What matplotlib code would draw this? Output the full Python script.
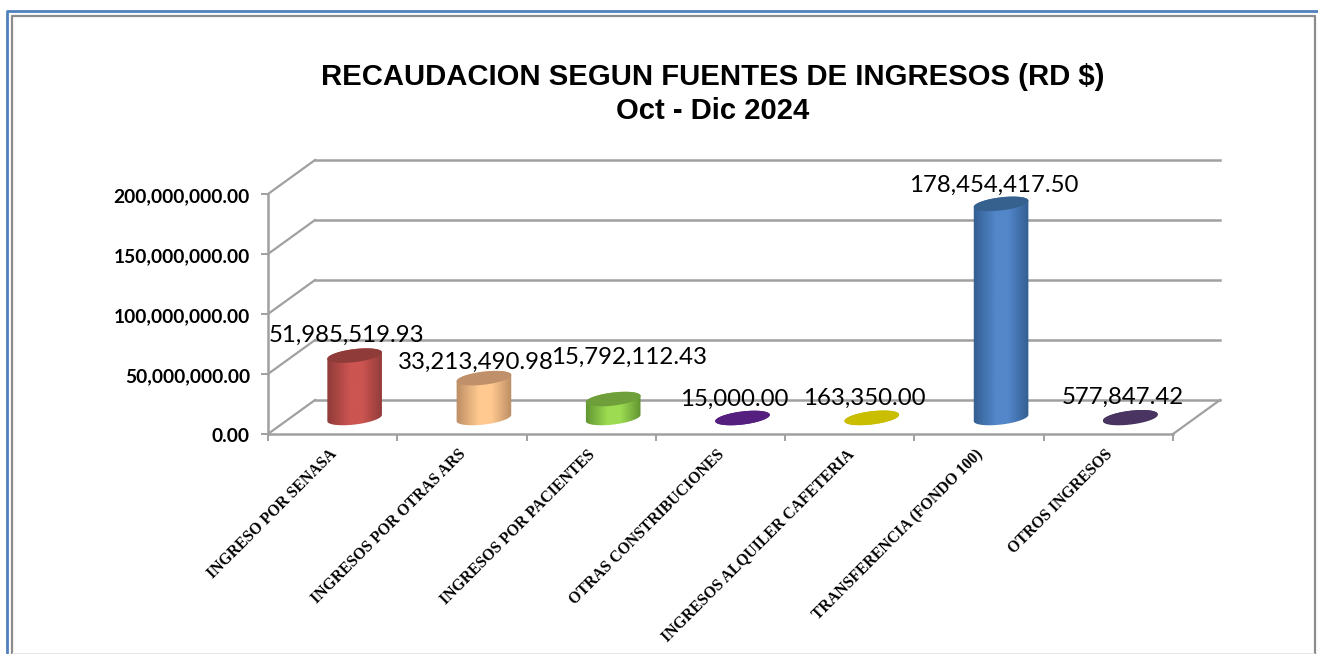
import numpy as np
import matplotlib
matplotlib.use("Agg")
import matplotlib.pyplot as plt
from matplotlib.colors import LinearSegmentedColormap
from matplotlib.lines import Line2D
from matplotlib.patches import Polygon
from matplotlib.path import Path
from matplotlib.ticker import FuncFormatter
from matplotlib.transforms import Affine2D, IdentityTransform

categories = ["INGRESO POR SENASA", "INGRESOS POR OTRAS ARS", "INGRESOS POR PACIENTES",
              "OTRAS CONSTRIBUCIONES", "INGRESOS ALQUILER CAFETERIA",
              "TRANSFERENCIA (FONDO 100)", "OTROS INGRESOS"]
values = [51985519.93, 33213490.98, 15792112.43, 15000.00, 163350.00, 178454417.50, 577847.42]
y_ticks = [0, 50000000, 100000000, 150000000, 200000000]

edge_colors = ["#8C3A38", "#B98A62", "#5E9130", "#4F1C78", "#B8AE00", "#315C8E", "#3F2C55"]
mid_colors = ["#CC5451", "#FFC98F", "#9DDC52", "#5B2186", "#CFC400", "#5387CA", "#4B3562"]
cap_colors = ["#8F3B39", "#BF9069", "#6F9F3A", "#551F80", "#C9BE00", "#36618F", "#4A3461"]
label_dy = [36, 32, 58, 35, 35, 35, 36]
label_dx = [14, 14, 38, 14, 14, 15, 14]

W, H = 1318, 654
DEPTH_X, DEPTH_Y = 47, 34
GRID = "#A0A0A0"

fig = plt.figure(figsize=(W / 100, H / 100), dpi=100, facecolor="white")
ax = fig.add_axes([268 / W, (H - 434) / H, (1173 - 268) / W, 240 / H])
ax.patch.set_visible(False)
ax.set_xlim(0, len(categories))
ax.set_ylim(0, 200000000)

# frame round the chart
fig.add_artist(Line2D([7 / W, 7 / W, 1], [0, 1 - 10.5 / H, 1 - 10.5 / H], color="#4F81BD", lw=2.0))
fig.add_artist(Line2D([12 / W, 12 / W, 1314.5 / W, 1314.5 / W], [0, 1 - 15.5 / H, 1 - 15.5 / H, 0],
                      color="#8C8C8C", lw=1.6))
fig.add_artist(Line2D([13 / W, 1314 / W], [0.5 / H, 0.5 / H], color="#E4E4E4", lw=1.2))

for v in y_ticks:
    # back wall line and the slanted line on the side wall
    x0, y0 = ax.transData.transform((0, v))
    x1, y1 = ax.transData.transform((len(categories), v))
    ax.plot([x0 + DEPTH_X, x1 + DEPTH_X], [y0 + DEPTH_Y, y1 + DEPTH_Y], color=GRID, lw=1.8,
            transform=IdentityTransform(), clip_on=False, zorder=1)
    ax.plot([x0, x0 + DEPTH_X], [y0, y0 + DEPTH_Y], color=GRID, lw=1.6,
            transform=IdentityTransform(), clip_on=False, zorder=1)
x1, y1 = ax.transData.transform((len(categories), 0))
ax.plot([x1, x1 + DEPTH_X], [y1, y1 + DEPTH_Y], color=GRID, lw=1.6,
        transform=IdentityTransform(), clip_on=False, zorder=1)

for side in ["top", "right"]:
    ax.spines[side].set_visible(False)
for side in ["left", "bottom"]:
    ax.spines[side].set_color(GRID)
    ax.spines[side].set_linewidth(1.8)

ax.set_yticks(y_ticks)
ax.yaxis.set_major_formatter(FuncFormatter(lambda v, pos: f"{v:,.2f}"))
ax.tick_params(axis="y", color=GRID, width=1.4, length=5, pad=8)
for t in ax.get_yticklabels():
    t.set_fontfamily("Lato")
    t.set_fontweight("bold")
    t.set_fontsize(13.8)
    t.set_transform(t.get_transform() + Affine2D().translate(0, -1))

ax.set_xticks(range(len(categories) + 1))
ax.set_xticklabels([])
ax.tick_params(axis="x", color=GRID, width=1.4, length=5)
ax.set_xticks(np.arange(len(categories)) + 0.5, minor=True)
ax.set_xticklabels(categories, minor=True, rotation=45, ha="right", va="top", rotation_mode="anchor",
                   fontfamily="Liberation Serif", fontweight="bold", fontsize=11.3)
ax.tick_params(axis="x", which="minor", length=0, pad=9)
for t in ax.get_xticklabels(minor=True):
    t.set_transform(t.get_transform() + Affine2D().translate(-4, 0))


def ellipse_pts(cx, cy, t, a=27.5, b=6.5, tilt=np.radians(7)):
    px = a * np.cos(t)
    py = b * np.sin(t)
    return np.column_stack([cx + px * np.cos(tilt) - py * np.sin(tilt),
                            cy + px * np.sin(tilt) + py * np.cos(tilt)])


for i, v in enumerate(values):
    bx, by = ax.transData.transform((i + 0.5, 0))
    tx, ty = ax.transData.transform((i + 0.5, v))
    bx, by, tx, ty = bx + 22, by + 16, tx + 22, ty + 16
    lower = ellipse_pts(bx, by, np.linspace(np.pi, 2 * np.pi, 60))
    upper = ellipse_pts(tx, ty, np.linspace(0, np.pi, 60))
    outline = np.vstack([lower, upper, lower[:1]])
    cmap = LinearSegmentedColormap.from_list(f"c{i}", [edge_colors[i], mid_colors[i], mid_colors[i], edge_colors[i]])
    shade = cmap(np.interp(np.linspace(0, 1, 256), [0, 0.42, 0.62, 1], [0, 0.34, 0.66, 1]))[np.newaxis, :, :]
    im = ax.imshow(shade, extent=(bx - 29, bx + 29, by - 12, ty + 12), origin="lower", aspect="auto",
                   transform=IdentityTransform(), zorder=3, interpolation="bilinear")
    im.set_clip_path(Path(outline), IdentityTransform())
    cap = ellipse_pts(tx, ty, np.linspace(0, 2 * np.pi, 120))
    ax.add_patch(Polygon(cap, closed=True, facecolor=cap_colors[i], edgecolor="none",
                         transform=IdentityTransform(), zorder=4, clip_on=False))
    ax.annotate(f"{v:,.2f}", xy=(i + 0.5, v), xytext=(label_dx[i], label_dy[i]), textcoords="offset pixels",
                ha="center", va="center", fontsize=17.3, family="Lato", color="black", zorder=6,
                annotation_clip=False)

ax.set_xlim(0, len(categories))
ax.set_ylim(0, 200000000)

fig.text(712.5 / W, 1 - 77 / H, "RECAUDACION SEGUN FUENTES DE INGRESOS (RD $)", ha="center", va="center",
         family="Liberation Sans", fontweight="bold", fontsize=21.1)
fig.text(712.5 / W, 1 - 111 / H, "Oct - Dic 2024", ha="center", va="center",
         family="Liberation Sans", fontweight="bold", fontsize=21.1)

fig.savefig("out.png", dpi=100)
